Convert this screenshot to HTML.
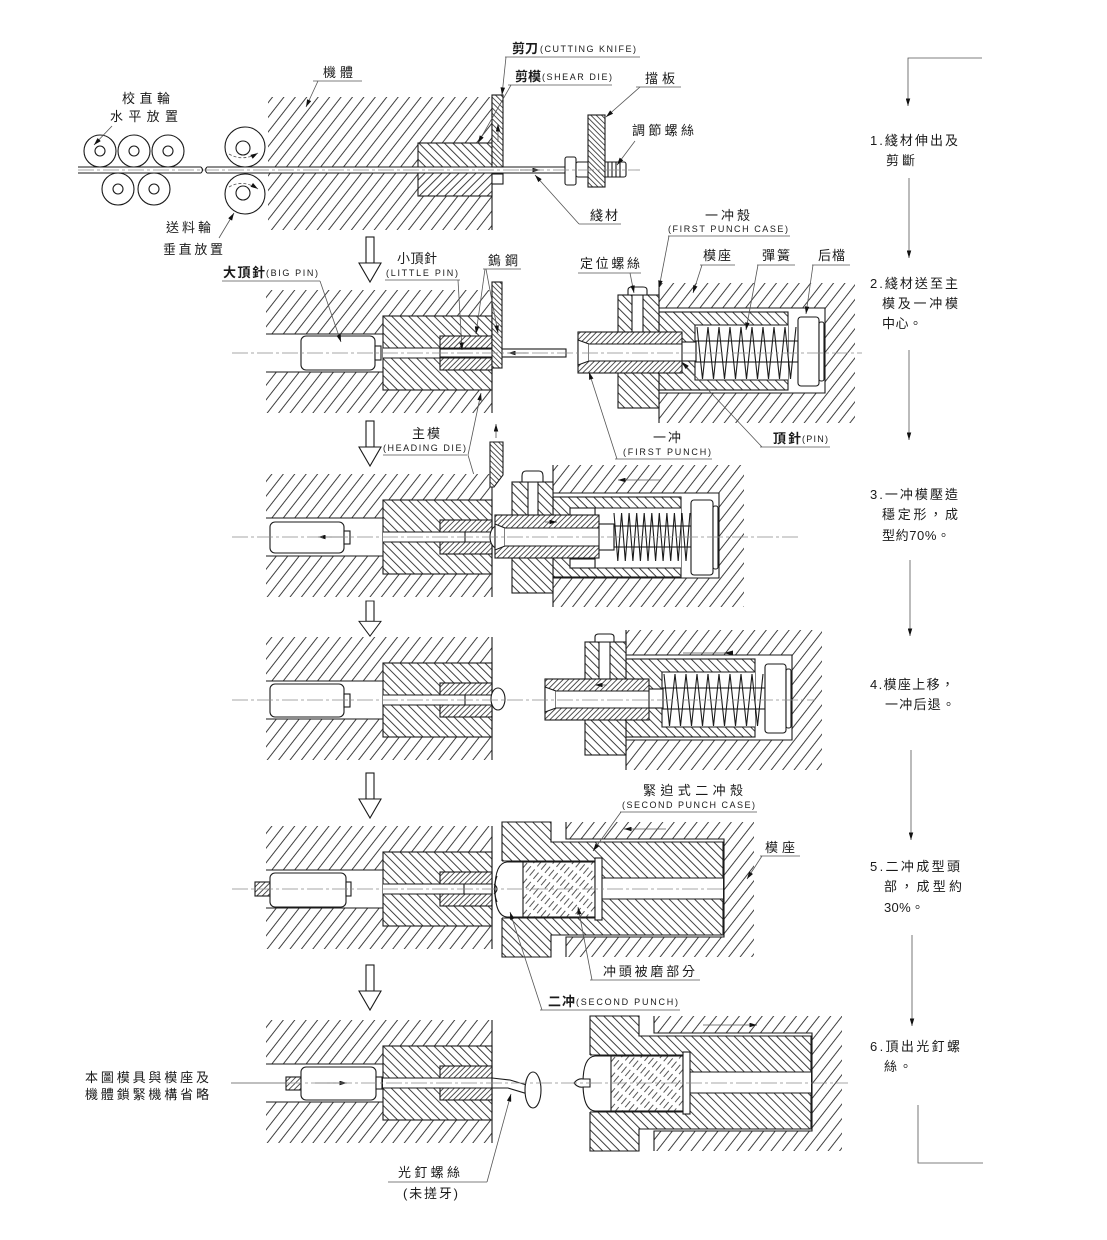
<!DOCTYPE html>
<html><head><meta charset="utf-8">
<style>
html,body{margin:0;padding:0;background:#fff;}
svg{display:block;}
text{font-family:"Liberation Sans","Noto Sans CJK TC","Noto Sans CJK SC",sans-serif;fill:#1a1a1a;}
.c{font-size:13px;}
.b{font-weight:bold;}
.e{font-size:9px;}
.r{font-size:13px;}
.s{stroke:#1a1a1a;stroke-width:1.1;fill:none;}
.o{stroke:#1a1a1a;stroke-width:1.1;}
.l{stroke:#555;stroke-width:0.8;fill:none;}
.cl{stroke:#8a8a8a;stroke-width:0.8;stroke-dasharray:16 3 3 3;fill:none;}
</style></head><body>
<svg width="1107" height="1240" viewBox="0 0 1107 1240" xmlns="http://www.w3.org/2000/svg">
<defs>
<pattern id="pB" width="9" height="10" patternUnits="userSpaceOnUse" patternTransform="rotate(38)"><rect width="9" height="10" fill="#fff"/><line x1="4.5" y1="0" x2="4.5" y2="10" stroke="#2a2a2a" stroke-width="0.9"/></pattern>
<pattern id="pD" width="6" height="10" patternUnits="userSpaceOnUse" patternTransform="rotate(-45)"><rect width="6" height="10" fill="#fff"/><line x1="3" y1="0" x2="3" y2="10" stroke="#2a2a2a" stroke-width="0.9"/></pattern>
<pattern id="pD2" width="6" height="10" patternUnits="userSpaceOnUse" patternTransform="rotate(45)"><rect width="6" height="10" fill="#fff"/><line x1="3" y1="0" x2="3" y2="10" stroke="#2a2a2a" stroke-width="0.9"/></pattern>
<pattern id="pI" width="3.8" height="10" patternUnits="userSpaceOnUse" patternTransform="rotate(45)"><rect width="3.8" height="10" fill="#fff"/><line x1="1.9" y1="0" x2="1.9" y2="10" stroke="#2a2a2a" stroke-width="0.8"/></pattern>
<pattern id="pK" width="3.8" height="10" patternUnits="userSpaceOnUse" patternTransform="rotate(-45)"><rect width="3.8" height="10" fill="#fff"/><line x1="1.9" y1="0" x2="1.9" y2="10" stroke="#2a2a2a" stroke-width="0.8"/></pattern>
<pattern id="pT" width="5" height="12" patternUnits="userSpaceOnUse" patternTransform="rotate(40)"><rect width="5" height="12" fill="#fff"/><line x1="2.5" y1="0" x2="2.5" y2="8" stroke="#2a2a2a" stroke-width="0.8"/></pattern>
<marker id="ah" viewBox="0 0 10 6" refX="10" refY="3" markerWidth="8" markerHeight="4.5" orient="auto" markerUnits="userSpaceOnUse"><path d="M0,0 L10,3 L0,6 z" fill="#111"/></marker>

<g id="L">
<rect x="266" y="-63" width="226" height="123" fill="url(#pB)"/>
<rect x="266" y="-19" width="117" height="38" fill="#fff"/>
<path class="s" d="M266,-19H383M266,19H383"/>
<rect x="383" y="-37" width="109" height="74" fill="url(#pD)" class="o"/>
<rect x="440" y="-17" width="52" height="34" fill="url(#pI)" class="o"/>
<rect x="383" y="-5" width="109" height="10" fill="#fff"/>
<path class="s" d="M383,-5H492M383,5H492"/>
<path class="s" d="M492,-63V60"/>
</g>

<g id="HA">
<rect x="-4" y="0" width="8" height="26" fill="#fff" class="o"/>
<polygon points="-11,26 11,26 0,45" fill="#fff" class="o"/>
</g>

<g id="R1a">
<rect x="0" y="-70" width="196" height="140" fill="url(#pB)"/>
<rect x="0" y="-45" width="166" height="85" fill="#fff"/>
<path class="s" d="M0,-70V-45H166V40H0V70"/>
<rect x="0" y="-41" width="129" height="78" fill="url(#pD)" class="o"/>
<rect x="36" y="-28" width="93" height="55" fill="#fff"/>
<path class="s" d="M129,-28H36V27H129"/>
<rect x="-41" y="-58" width="41" height="113" fill="url(#pD)" class="o"/>
<rect x="-27" y="-58" width="11" height="38" fill="#fff" class="o"/>
<path d="M-31,-58 V-63 Q-31,-66 -27,-66 H-16 Q-12,-66 -12,-63 V-58 Z" fill="#fff" class="o"/>
<rect x="-81" y="-21" width="104" height="41" fill="url(#pI)" class="o"/>
<polygon points="-81,-13 -70,-9 -70,8 -81,12" fill="#fff" class="o"/>
<rect x="-70" y="-9" width="93" height="17" fill="#fff"/>
<path class="s" d="M-70,-9H23M-70,8H23"/>
<rect x="23" y="-11" width="14" height="19" fill="#fff" class="o"/>
<path class="s" d="M38,-26L43.5,26L49,-26L54.5,26L60,-26L65.5,26L71,-26L76.5,26L82,-26L87.5,26L93,-26L98.5,26L104,-26L109.5,26L115,-26L120.5,26L126,-26L131.5,26L137,-26"/>
<rect x="37" y="-12" width="102" height="21" fill="none" class="o"/>
<rect x="139" y="-36" width="21" height="69" rx="3" fill="#fff" class="o"/>
<rect x="160" y="-31" width="5" height="59" rx="2" fill="#fff" class="o"/>
</g>

<g id="R2">
<rect x="64" y="-67" width="188" height="135" fill="url(#pB)"/>
<rect x="49" y="-50" width="173" height="98" fill="#fff"/>
<path class="s" d="M64,-67V-50H222V48H64V68"/>
<path d="M0,-67H49V-47H221V46H49V68H0Z" fill="url(#pD)" class="o"/>
<rect x="-7" y="-28" width="107" height="57" fill="#fff"/>
<path class="s" d="M0,-28H100M0,29H100"/>
<rect x="100" y="-11" width="121" height="21" fill="#fff"/>
<path class="s" d="M100,-11H221M100,10H221"/>
<rect x="21" y="-27" width="72" height="55" fill="url(#pT)" class="o"/>
<rect x="93" y="-31" width="7" height="62" fill="#fff" class="o"/>
<path class="s" d="M21,-27H5Q-7,-26 -7,0Q-7,27 5,28H21"/>
</g>
</defs>

<!-- ================= STAGE 1 ================= -->
<g>
<circle cx="100" cy="151" r="16" fill="#fff" class="o"/>
<circle cx="134" cy="151" r="16" fill="#fff" class="o"/>
<circle cx="168" cy="151" r="16" fill="#fff" class="o"/>
<circle cx="100" cy="151" r="5" fill="none" class="o"/>
<circle cx="134" cy="151" r="5" fill="none" class="o"/>
<circle cx="168" cy="151" r="5" fill="none" class="o"/>
<circle cx="118" cy="189" r="16" fill="#fff" class="o"/>
<circle cx="154" cy="189" r="16" fill="#fff" class="o"/>
<circle cx="118" cy="189" r="5" fill="none" class="o"/>
<circle cx="154" cy="189" r="5" fill="none" class="o"/>
<path class="s" d="M78,167H201M78,173H201M201,167q3,3 0,6M207,167q-3,3 0,6"/>

<circle cx="245" cy="147" r="20" fill="#fff" class="o"/>
<circle cx="245" cy="194" r="20" fill="#fff" class="o"/>
<circle cx="243" cy="148" r="7" fill="none" class="o"/>
<circle cx="243" cy="193" r="7" fill="none" class="o"/>
<path class="l" d="M229,154 Q243,162 258,153" stroke-dasharray="3 2" marker-end="url(#ah)"/>
<path class="l" d="M229,187 Q243,179 258,189" stroke-dasharray="3 2" marker-end="url(#ah)"/>

<rect x="268" y="97" width="224" height="133" fill="url(#pB)"/>
<path class="s" d="M492,97V230"/>
<rect x="418" y="143" width="74" height="26.5" fill="url(#pD)"/>
<rect x="418" y="169.5" width="74" height="26.5" fill="url(#pD2)"/>
<rect x="418" y="143" width="74" height="53" fill="none" class="o"/>
<rect x="207" y="167" width="358" height="6" fill="#fff"/>
<path class="s" d="M207,167H565M207,173H565"/>
<rect x="492" y="95" width="11" height="72" fill="url(#pK)" class="o"/>
<line x1="498" y1="142" x2="498" y2="124" class="l" marker-end="url(#ah)"/>
<rect x="492" y="174" width="11" height="10" fill="#fff" class="o"/>
<line x1="520" y1="170" x2="540" y2="170" class="l" marker-end="url(#ah)"/>
<rect x="565" y="157" width="11" height="28" rx="2" fill="#fff" class="o"/>
<rect x="576" y="162" width="50" height="15" rx="2" fill="#fff" class="o"/>
<path class="s" d="M608,162V177M612,162V177M616,162V177M620,162V177" stroke-width="0.6"/>
<rect x="588" y="115" width="17" height="72" fill="url(#pK)" class="o"/>
<line x1="78" y1="170" x2="640" y2="170" class="cl"/>
</g>

<text x="512" y="53" class="c b" textLength="26" lengthAdjust="spacing">剪刀</text>
<text x="540" y="52" class="e" textLength="96" lengthAdjust="spacing">(CUTTING KNIFE)</text>
<path class="l" d="M505,57H640"/>
<path class="l" d="M506,57L502,95" marker-end="url(#ah)"/>
<text x="515" y="81" class="c b" textLength="26" lengthAdjust="spacing">剪模</text>
<text x="542" y="80" class="e" textLength="70" lengthAdjust="spacing">(SHEAR DIE)</text>
<path class="l" d="M508,85H612"/>
<path class="l" d="M511,85L478,143" marker-end="url(#ah)"/>
<text x="323" y="77" class="c" textLength="30" lengthAdjust="spacing">機體</text>
<path class="l" d="M313,81H362"/>
<path class="l" d="M318,81L306,107" marker-end="url(#ah)"/>
<text x="645" y="83" class="c" textLength="30" lengthAdjust="spacing">擋板</text>
<path class="l" d="M636,87H681"/>
<path class="l" d="M640,87L606,117" marker-end="url(#ah)"/>
<text x="632" y="135" class="c" textLength="62" lengthAdjust="spacing">調節螺絲</text>
<path class="l" d="M635,141L617,165" marker-end="url(#ah)"/>
<text x="590" y="220" class="c" textLength="28" lengthAdjust="spacing">綫材</text>
<path class="l" d="M579,224H621"/>
<path class="l" d="M579,224L535,175" marker-end="url(#ah)"/>
<text x="122" y="103" class="c" textLength="48" lengthAdjust="spacing">校直輪</text>
<text x="110" y="121" class="c" textLength="68" lengthAdjust="spacing">水平放置</text>
<path class="l" d="M112,126L94,145" marker-end="url(#ah)"/>
<text x="166" y="232" class="c" textLength="45" lengthAdjust="spacing">送料輪</text>
<text x="163" y="254" class="c" textLength="60" lengthAdjust="spacing">垂直放置</text>
<path class="l" d="M219,238L234,213" marker-end="url(#ah)"/>

<use href="#HA" transform="translate(370,237)"/>
<use href="#HA" transform="translate(370,421)"/>
<use href="#HA" transform="translate(370,601) scale(1,0.78)"/>
<use href="#HA" transform="translate(370,773)"/>
<use href="#HA" transform="translate(370,965)"/>

<!-- ================= STAGE 2 ================= -->
<use href="#L" transform="translate(0,353)"/>
<rect x="301" y="336" width="74" height="34" rx="5" fill="#fff" class="o"/>
<rect x="375" y="346" width="6" height="14" fill="#fff" class="o"/>
<rect x="440" y="349" width="126" height="8" fill="#fff" class="o"/>
<rect x="492" y="282" width="10" height="86" fill="url(#pK)" class="o"/>
<line x1="528" y1="353" x2="508" y2="353" class="l" marker-end="url(#ah)"/>
<use href="#R1a" transform="translate(659,353)"/>
<line x1="232" y1="353" x2="862" y2="353" class="cl"/>

<text x="223" y="277" class="c b" textLength="42" lengthAdjust="spacing">大頂針</text>
<text x="266" y="276" class="e" textLength="52" lengthAdjust="spacing">(BIG PIN)</text>
<path class="l" d="M222,281H320"/>
<path class="l" d="M320,281L341,342" marker-end="url(#ah)"/>
<text x="397" y="263" class="c" textLength="40" lengthAdjust="spacing">小頂針</text>
<text x="386" y="276" class="e" textLength="72" lengthAdjust="spacing">(LITTLE PIN)</text>
<path class="l" d="M385,280H460"/>
<path class="l" d="M458,280L462,350" marker-end="url(#ah)"/>
<text x="488" y="265" class="c" textLength="30" lengthAdjust="spacing">鎢鋼</text>
<path class="l" d="M483,269H521"/>
<path class="l" d="M485,269L476,334" marker-end="url(#ah)"/>
<path class="l" d="M486,269L498,333" marker-end="url(#ah)"/>
<text x="580" y="268" class="c" textLength="60" lengthAdjust="spacing">定位螺絲</text>
<path class="l" d="M578,273H641"/>
<path class="l" d="M630,273L634,293" marker-end="url(#ah)"/>
<text x="705" y="220" class="c" textLength="45" lengthAdjust="spacing">一冲殼</text>
<text x="668" y="232" class="e" textLength="120" lengthAdjust="spacing">(FIRST PUNCH CASE)</text>
<path class="l" d="M668,236H790"/>
<path class="l" d="M669,236L659,288" marker-end="url(#ah)"/>
<text x="703" y="260" class="c" textLength="28" lengthAdjust="spacing">模座</text>
<path class="l" d="M700,265H735"/>
<path class="l" d="M702,265L693,293" marker-end="url(#ah)"/>
<text x="762" y="260" class="c" textLength="28" lengthAdjust="spacing">彈簧</text>
<path class="l" d="M757,265H795"/>
<path class="l" d="M758,265L746,330" marker-end="url(#ah)"/>
<text x="818" y="260" class="c" textLength="27" lengthAdjust="spacing">后檔</text>
<path class="l" d="M812,265H850"/>
<path class="l" d="M813,265L806,314" marker-end="url(#ah)"/>
<text x="653" y="442" class="c" textLength="28" lengthAdjust="spacing">一冲</text>
<text x="623" y="455" class="e" textLength="88" lengthAdjust="spacing">(FIRST PUNCH)</text>
<path class="l" d="M615,459H712"/>
<path class="l" d="M617,459L589,372" marker-end="url(#ah)"/>
<text x="773" y="443" class="c b" textLength="28" lengthAdjust="spacing">頂針</text>
<text x="802" y="442" class="e" textLength="26" lengthAdjust="spacing">(PIN)</text>
<path class="l" d="M760,447H830"/>
<path class="l" d="M762,447L682,362" marker-end="url(#ah)"/>
<text x="412" y="438" class="c" textLength="28" lengthAdjust="spacing">主模</text>
<text x="383" y="451" class="e" textLength="83" lengthAdjust="spacing">(HEADING DIE)</text>
<path class="l" d="M383,455H467"/>
<path class="l" d="M468,455L481,393" marker-end="url(#ah)"/>
<path class="l" d="M468,455L481,499" marker-end="url(#ah)"/>

<!-- ================= STAGE 3 ================= -->
<use href="#L" transform="translate(0,537)"/>
<rect x="270" y="522" width="74" height="31" rx="5" fill="#fff" class="o"/>
<rect x="344" y="531" width="6" height="13" fill="#fff" class="o"/>
<path class="s" d="M465,532V542"/>
<line x1="344" y1="537" x2="318" y2="537" class="l" marker-end="url(#ah)"/>
<ellipse cx="497" cy="537" rx="7" ry="11" fill="#fff" class="o"/>
<polygon points="490,442 503,442 503,475 494,487 490,487" fill="url(#pK)" class="o"/>
<line x1="496" y1="438" x2="496" y2="424" class="l" marker-end="url(#ah)"/>
<g transform="translate(553,537)">
<rect x="0" y="-72" width="191" height="142" fill="url(#pB)"/>
<rect x="0" y="-44" width="166" height="85" fill="#fff"/>
<path class="s" d="M0,-72V-44H166V41H0V70"/>
<rect x="0" y="-40" width="128" height="80" fill="url(#pD)" class="o"/>
<rect x="42" y="-29" width="86" height="60" fill="#fff"/>
<path class="s" d="M128,-29H42V31H128"/>
<rect x="17" y="-29" width="25" height="9" fill="#fff" class="o"/>
<rect x="17" y="22" width="25" height="9" fill="#fff" class="o"/>
<rect x="-41" y="-55" width="41" height="111" fill="url(#pD)" class="o"/>
<rect x="-25" y="-55" width="10" height="36" fill="#fff" class="o"/>
<path d="M-31,-55 V-61 Q-31,-66 -27,-66 H-14 Q-10,-66 -10,-61 V-55 Z" fill="#fff" class="o"/>
<rect x="-58" y="-22" width="104" height="43" fill="url(#pI)" class="o"/>
<polygon points="-58,-13 -48,-9 -48,9 -58,13" fill="#fff" class="o"/>
<rect x="-48" y="-9" width="94" height="18" fill="#fff"/>
<path class="s" d="M-48,-9H46M-48,9H46"/>
<rect x="46" y="-13" width="15" height="26" fill="#fff" class="o"/>
<path class="s" d="M61,-24L64.8,24L68.6,-24L72.3,24L76.1,-24L79.9,24L83.7,-24L87.4,24L91.2,-24L95,24L98.8,-24L102.6,24L106.3,-24L110.1,24L113.9,-24L117.7,24L121.4,-24L125.2,24L129,-24L133,24L137,-24"/>
<rect x="61" y="-11" width="77" height="21" fill="none" class="o"/>
<rect x="138" y="-37" width="22" height="75" rx="3" fill="#fff" class="o"/>
<rect x="160" y="-31" width="5" height="63" rx="2" fill="#fff" class="o"/>
<line x1="-8" y1="-15" x2="4" y2="-15" class="l" marker-end="url(#ah)"/>
<line x1="107" y1="-57" x2="65" y2="-57" class="l" marker-end="url(#ah)"/>
</g>
<line x1="232" y1="537" x2="800" y2="537" class="cl"/>

<!-- ================= STAGE 4 ================= -->
<use href="#L" transform="translate(0,700)"/>
<rect x="270" y="684" width="74" height="33" rx="5" fill="#fff" class="o"/>
<rect x="344" y="694" width="6" height="13" fill="#fff" class="o"/>
<path class="s" d="M465,695V705"/>
<ellipse cx="498" cy="699" rx="7" ry="11" fill="#fff" class="o"/>
<use href="#R1a" transform="translate(626,700)"/>
<line x1="607" y1="685" x2="595" y2="685" class="l" marker-end="url(#ah)"/>
<line x1="683" y1="653" x2="733" y2="653" class="l"/>
<path d="M724,653 L733,650.5 L733,655.5Z" fill="#111"/>
<line x1="232" y1="700" x2="815" y2="700" class="cl"/>

<!-- ================= STAGE 5 ================= -->
<use href="#L" transform="translate(0,889)"/>
<rect x="255" y="882" width="15" height="14" fill="url(#pI)" class="o"/>
<rect x="270" y="873" width="76" height="34" rx="5" fill="#fff" class="o"/>
<rect x="346" y="882" width="5" height="14" fill="#fff" class="o"/>
<path class="s" d="M464,884V894"/>
<use href="#R2" transform="translate(502,889)"/>
<path class="s" d="M497,876 Q492,889 497,902 M494,884 Q500,889 494,894" stroke-width="0.8"/>
<line x1="666" y1="829" x2="624" y2="829" class="l" marker-end="url(#ah)"/>
<line x1="232" y1="889" x2="725" y2="889" class="cl"/>

<text x="643" y="795" class="c" textLength="100" lengthAdjust="spacing">緊迫式二冲殼</text>
<text x="622" y="808" class="e" textLength="133" lengthAdjust="spacing">(SECOND PUNCH CASE)</text>
<path class="l" d="M620,812H757"/>
<path class="l" d="M621,812L593,851" marker-end="url(#ah)"/>
<text x="765" y="852" class="c" textLength="30" lengthAdjust="spacing">模座</text>
<path class="l" d="M760,856H800"/>
<path class="l" d="M762,856L747,879" marker-end="url(#ah)"/>
<text x="603" y="976" class="c" textLength="92" lengthAdjust="spacing">冲頭被磨部分</text>
<path class="l" d="M590,980H700"/>
<path class="l" d="M592,980L578,907" marker-end="url(#ah)"/>
<text x="548" y="1006" class="c b" textLength="27" lengthAdjust="spacing">二冲</text>
<text x="576" y="1005" class="e" textLength="102" lengthAdjust="spacing">(SECOND PUNCH)</text>
<path class="l" d="M540,1010H680"/>
<path class="l" d="M542,1010L510,912" marker-end="url(#ah)"/>

<!-- ================= STAGE 6 ================= -->
<use href="#L" transform="translate(0,1083)"/>
<rect x="286" y="1077" width="15" height="13" fill="url(#pI)" class="o"/>
<rect x="301" y="1067" width="75" height="33" rx="5" fill="#fff" class="o"/>
<rect x="376" y="1077" width="6" height="12" fill="#fff" class="o"/>
<line x1="315" y1="1083" x2="347" y2="1083" class="l" marker-end="url(#ah)"/>
<path d="M492,1078 L510,1080 L530,1086 L528,1094 L508,1088 L492,1088 Z" fill="#fff" class="o"/>
<ellipse cx="533" cy="1090" rx="8" ry="18" fill="#fff" class="o"/>
<use href="#R2" transform="translate(590,1083)"/>
<path d="M574,1083 Q578,1078 583,1079 L590,1079 L590,1087 L583,1087 Q578,1088 574,1083Z" fill="#fff" class="o"/>
<line x1="703" y1="1025" x2="757" y2="1025" class="l" marker-end="url(#ah)"/>
<line x1="286" y1="1083" x2="848" y2="1083" class="cl"/>

<text x="85" y="1082" class="c" textLength="124" lengthAdjust="spacing">本圖模具與模座及</text>
<text x="85" y="1099" class="c" textLength="124" lengthAdjust="spacing">機體鎖緊機構省略</text>
<line x1="231" y1="1083" x2="286" y2="1083" class="l"/>
<text x="398" y="1177" class="c" textLength="62" lengthAdjust="spacing">光釘螺絲</text>
<path class="l" d="M388,1182H487"/>
<path class="l" d="M487,1182L511,1094" marker-end="url(#ah)"/>
<text x="403" y="1198" class="c" textLength="55" lengthAdjust="spacing">(未搓牙)</text>

<!-- ================= RIGHT COLUMN ================= -->
<path class="l" d="M982,58H908V106" marker-end="url(#ah)"/>
<line x1="909" y1="178" x2="909" y2="258" class="l" marker-end="url(#ah)"/>
<line x1="909" y1="350" x2="909" y2="440" class="l" marker-end="url(#ah)"/>
<line x1="910" y1="560" x2="910" y2="636" class="l" marker-end="url(#ah)"/>
<line x1="911" y1="750" x2="911" y2="840" class="l" marker-end="url(#ah)"/>
<line x1="912" y1="935" x2="912" y2="1026" class="l" marker-end="url(#ah)"/>
<path class="l" d="M918,1105V1163H983"/>

<text x="870" y="145" class="r" textLength="88" lengthAdjust="spacing">1.綫材伸出及</text>
<text x="886" y="165" class="r" textLength="29" lengthAdjust="spacing">剪斷</text>
<text x="870" y="288" class="r" textLength="88" lengthAdjust="spacing">2.綫材送至主</text>
<text x="882" y="308" class="r" textLength="76" lengthAdjust="spacing">模及一冲模</text>
<text x="882" y="328" class="r" textLength="40" lengthAdjust="spacing">中心。</text>
<text x="870" y="499" class="r" textLength="88" lengthAdjust="spacing">3.一冲模壓造</text>
<text x="882" y="519" class="r" textLength="76" lengthAdjust="spacing">穩定形，成</text>
<text x="882" y="540" class="r" textLength="68" lengthAdjust="spacing">型約70%。</text>
<text x="870" y="689" class="r" textLength="84" lengthAdjust="spacing">4.模座上移，</text>
<text x="885" y="709" class="r" textLength="70" lengthAdjust="spacing">一冲后退。</text>
<text x="870" y="871" class="r" textLength="90" lengthAdjust="spacing">5.二冲成型頭</text>
<text x="884" y="891" class="r" textLength="78" lengthAdjust="spacing">部，成型約</text>
<text x="884" y="912" class="r" textLength="40" lengthAdjust="spacing">30%。</text>
<text x="870" y="1051" class="r" textLength="90" lengthAdjust="spacing">6.頂出光釘螺</text>
<text x="884" y="1071" class="r" textLength="28" lengthAdjust="spacing">絲。</text>
</svg>
</body></html>
